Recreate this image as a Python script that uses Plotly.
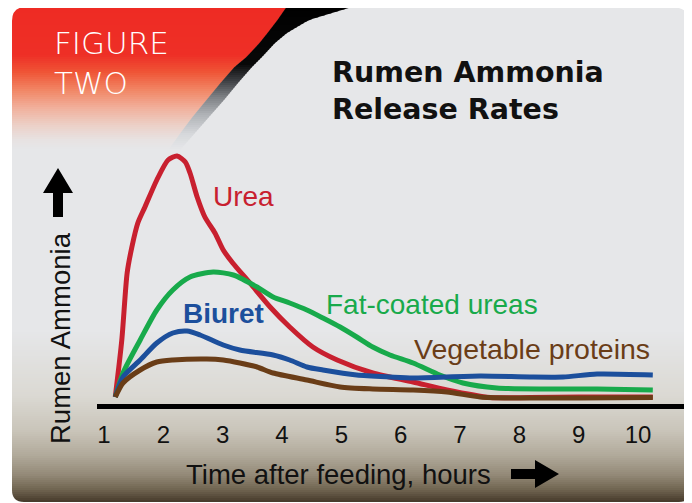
import numpy as np
import plotly.graph_objects as go

# page places the figure 8px in from the top-left corner
OFF = 8
W, H = 692 - OFF, 503 - OFF

# ---------------- data (hours after feeding, relative rumen ammonia) ----------------
urea_hours = [1.19, 1.30, 1.39, 1.47, 1.57, 1.69, 1.89, 2.08, 2.23, 2.37, 2.45, 2.57, 2.70, 2.87,
              3.01, 3.17, 3.46, 3.80, 4.13, 4.52, 4.93, 5.53, 6.21, 6.78, 7.51, 8.18, 9.0, 10.25]
urea = [3.6, 26.4, 53.2, 63.6, 73.2, 79.6, 90.4, 98.4, 100.0, 97.6, 93.2, 83.6, 75.6, 69.2,
        62.4, 57.2, 49.2, 39.6, 31.6, 23.6, 18.4, 13.2, 9.6, 6.4, 3.4, 3.4, 3.6, 3.6]

fat_hours = [1.19, 1.32, 1.61, 1.89, 2.16, 2.45, 2.84, 3.18, 3.58, 3.85, 4.13, 4.42, 4.69, 4.98,
             5.26, 5.53, 5.82, 6.21, 6.66, 7.05, 7.62, 8.47, 9.31, 10.25]
fat_coated = [3.6, 13.2, 26.4, 38.4, 46.4, 51.6, 53.6, 52.4, 47.6, 43.6, 41.2, 38.4, 35.2, 31.6,
              27.6, 23.6, 20.4, 17.2, 12.4, 9.2, 7.2, 6.8, 6.8, 6.4]

biuret_hours = [1.19, 1.32, 1.61, 1.89, 2.16, 2.40, 2.62, 3.01, 3.29, 3.85, 4.13, 4.42, 4.69, 5.26,
                5.82, 6.21, 7.34, 8.18, 8.74, 9.31, 10.25]
biuret = [3.6, 11.6, 18.4, 25.2, 29.2, 30.0, 28.4, 24.4, 22.4, 20.4, 18.4, 15.6, 14.4, 12.4,
          11.6, 11.2, 12.0, 11.6, 11.6, 12.8, 12.4]

veg_hours = [1.19, 1.32, 1.61, 1.89, 2.16, 2.73, 3.01, 3.29, 3.58, 3.85, 4.42, 4.98, 5.53, 6.21,
             6.78, 7.34, 7.89, 9.02, 10.25]
vegetable = [3.6, 9.2, 14.4, 17.6, 18.4, 18.8, 18.4, 17.2, 15.6, 13.2, 10.4, 7.6, 6.8, 6.4,
             5.6, 3.6, 3.2, 3.2, 3.4]

tick_hours = [1, 2, 3, 4, 5, 6, 7, 8, 9, 10]

# ---------------- helpers (page pixel -> paper) ----------------
def PX(x):
    return (x - OFF) / W


def PY(y):
    return 1 - (y - OFF) / H


def pt(x, y):
    return f"{PX(x):.5f},{PY(y):.5f}"


def hex2rgb(h):
    h = h.lstrip('#')
    return [int(h[i:i + 2], 16) for i in (0, 2, 4)]


def interp_color(stops, y):
    ys = [s[0] for s in stops]
    cols = np.array([hex2rgb(s[1]) for s in stops], dtype=float)
    c = [int(round(np.interp(y, ys, cols[:, k]))) for k in range(3)]
    return f"rgb({c[0]},{c[1]},{c[2]})"


shapes = []
PANEL = "#e6e7e9"
L, T, R, B = 12, 7, 691, 502

# panel base
shapes.append(dict(type="rect", xref="paper", yref="paper", x0=PX(L), x1=PX(R), y0=PY(B), y1=PY(T),
                   fillcolor=PANEL, line=dict(width=0), layer="below"))

# bottom gradient
bottom_stops = [(330, "#e6e7e9"), (395, "#dbd9d3"), (430, "#cac5ba"), (455, "#b1aa9b"),
                (475, "#938977"), (490, "#6f634f"), (502, "#44382a")]
for y in range(330, 502, 2):
    shapes.append(dict(type="rect", xref="paper", yref="paper", x0=PX(L), x1=PX(R),
                       y0=PY(min(y + 2.6, B)), y1=PY(y),
                       fillcolor=interp_color(bottom_stops, y + 1), line=dict(width=0), layer="below"))

# red corner and black swoosh
edge_y = [7, 20, 33, 43, 57, 67, 83, 100, 117, 133, 150]
inner_x = [287, 278, 268, 260, 247, 235, 221, 207, 193, 181, 169]
outer_x = [352, 309, 287, 275, 262, 252, 238, 224, 209, 195, 180]
red_stops = [(7, "#ee2b24"), (55, "#ee2f26"), (72, "#ef5436"), (90, "#f18665"), (108, "#f1b09c"),
             (125, "#ecd0c7"), (140, "#e7e2e2"), (150, PANEL)]
blk_stops = [(7, "#000000"), (64, "#080808"), (80, "#3a3c40"), (97, "#7d8084"), (114, "#aeb1b5"),
             (134, "#d6d8db"), (150, PANEL)]
for y in range(7, 150, 2):
    y0, y1 = y, min(y + 2.6, 150)
    a0, a1 = np.interp(y0, edge_y, inner_x), np.interp(y1, edge_y, inner_x)
    b0, b1 = np.interp(y0, edge_y, outer_x), np.interp(y1, edge_y, outer_x)
    shapes.append(dict(type="path", xref="paper", yref="paper",
                       path=f"M {pt(L, y0)} L {pt(a0, y0)} L {pt(a1, y1)} L {pt(L, y1)} Z",
                       fillcolor=interp_color(red_stops, y + 1), line=dict(width=0), layer="below"))
    shapes.append(dict(type="path", xref="paper", yref="paper",
                       path=f"M {pt(a0 - 0.5, y0)} L {pt(b0, y0)} L {pt(b1, y1)} L {pt(a1 - 0.5, y1)} Z",
                       fillcolor=interp_color(blk_stops, y + 1), line=dict(width=0), layer="below"))

# rounded-corner masks
for path in [f"M {pt(L - 1, T - 1)} L {pt(L + 14, T - 1)} L {pt(L + 14, T)} Q {pt(L, T)} {pt(L, T + 14)} L {pt(L - 1, T + 14)} Z",
             f"M {pt(R + 1, T - 1)} L {pt(R - 20, T - 1)} L {pt(R - 20, T)} Q {pt(R, T)} {pt(R, T + 20)} L {pt(R + 1, T + 20)} Z",
             f"M {pt(L - 1, B + 1)} L {pt(L - 1, B - 12)} L {pt(L, B - 12)} Q {pt(L, B)} {pt(L + 12, B)} L {pt(L + 12, B + 1)} Z",
             f"M {pt(R + 1, B + 1)} L {pt(R - 12, B + 1)} L {pt(R - 12, B)} Q {pt(R, B)} {pt(R, B - 12)} L {pt(R + 1, B - 12)} Z"]:
    shapes.append(dict(type="path", xref="paper", yref="paper", path=path,
                       fillcolor="white", line=dict(width=0), layer="below"))

# arrows
up_arrow = [(53, 217), (53, 193), (43, 193), (58, 168), (73, 193), (63, 193), (63, 217)]
right_arrow = [(511, 469), (535, 469), (535, 460), (559, 474), (535, 488), (535, 479), (511, 479)]
for arr in (up_arrow, right_arrow):
    p = "M " + " L ".join(pt(x, y) for x, y in arr) + " Z"
    shapes.append(dict(type="path", xref="paper", yref="paper", path=p,
                       fillcolor="black", line=dict(width=0), layer="above"))

# ---------------- traces ----------------
fig = go.Figure()
series = [
    ("Urea", urea_hours, urea, "#c8202f"),
    ("Fat-coated ureas", fat_hours, fat_coated, "#18aa4b"),
    ("Biuret", biuret_hours, biuret, "#1c4f9c"),
    ("Vegetable proteins", veg_hours, vegetable, "#6a3d17"),
]
for name, xs, ys, col in series:
    fig.add_trace(go.Scatter(x=xs, y=ys, mode="lines", name=name,
                             line=dict(color=col, width=5, shape="spline", smoothing=0.7),
                             cliponaxis=False, hoverinfo="skip"))

# ---------------- annotations ----------------
LAB = "Liberation Sans, Arial, sans-serif"
ann = []


def add_text(text, x, y, size, color, family=LAB, weight="normal", xanchor="left", angle=0):
    ann.append(dict(text=text, x=PX(x), y=PY(y), xref="paper", yref="paper", showarrow=False,
                    xanchor=xanchor, yanchor="middle", textangle=angle, align="left",
                    font=dict(family=family, size=size, color=color, weight=weight)))


add_text("FIGURE<br>TWO", 52, 63, 31, "white", family="DejaVu Sans", weight=200)
add_text("Rumen Ammonia<br>Release Rates", 330, 91, 28.5, "#111111", family="DejaVu Sans", weight="bold")
add_text("Urea", 211, 196, 28, "#c8202f")
add_text("Biuret", 181, 313, 28, "#1c4f9c", weight="bold")
add_text("Fat-coated ureas", 324, 304, 28, "#18aa4b")
add_text("Vegetable proteins", 412, 349, 28.5, "#6a3d17")
add_text("Time after feeding, hours", 338.5, 474, 27.5, "#111111", xanchor="center")
add_text("Rumen Ammonia", 60, 338, 27.5, "#111111", xanchor="center", angle=-90)

# ---------------- layout ----------------
x_left = 1 + (97 - 104) / 59.33
x_right = 1 + (692 - 104) / 59.33
fig.update_layout(
    width=W, height=H,
    margin=dict(l=0, r=0, t=0, b=0),
    paper_bgcolor="white", plot_bgcolor="rgba(0,0,0,0)",
    showlegend=False,
    shapes=shapes,
    annotations=ann,
    xaxis=dict(domain=[PX(97), 1], range=[x_left, x_right], showline=True, linecolor="black",
               linewidth=5, ticks="", tickvals=tick_hours, ticktext=[str(t) for t in tick_hours],
               tickfont=dict(family=LAB, size=24, color="#111111"), showgrid=False, zeroline=False,
               automargin=False, fixedrange=True, ticklabelstandoff=6),
    yaxis=dict(domain=[PY(403.5), PY(140)], range=[1, 106.4], visible=False, showgrid=False,
               zeroline=False, automargin=False, fixedrange=True),
)

fig.write_html("out.html")
